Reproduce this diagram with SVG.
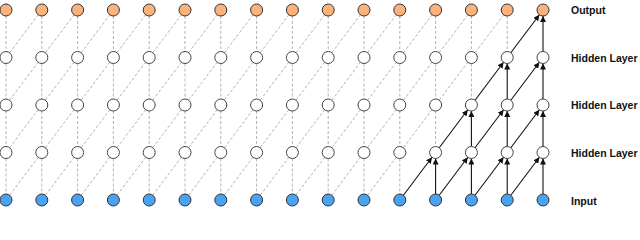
<svg xmlns="http://www.w3.org/2000/svg" width="640" height="240" viewBox="0 0 640 240">
<defs>
<style>
.d{stroke:#b3b3b3;stroke-width:1;stroke-dasharray:3 2;fill:none}
.a{stroke:#111;stroke-width:1.1;fill:none;marker-end:url(#ah)}
.o{fill:#fbb27c;stroke:#333;stroke-width:1}
.h{fill:#fff;stroke:#444;stroke-width:1}
.i{fill:#4aa3f0;stroke:#333;stroke-width:1}
.t{font-family:"Liberation Sans",Arial,sans-serif;font-weight:bold;font-size:10.5px;fill:#111}
</style>
<marker id="ah" viewBox="0 0 10 10" refX="10" refY="5" markerWidth="6" markerHeight="6" markerUnits="userSpaceOnUse" orient="auto"><path d="M0,0 L10,5 L0,10 z" fill="#111"/></marker>
</defs>
<g id="connectors">
<!-- grey vertical dashed -->
<g id="dashed-vertical">
<line class="d" x1="6" y1="16" x2="6" y2="51.5"/><line class="d" x1="6" y1="63.5" x2="6" y2="99"/><line class="d" x1="6" y1="111" x2="6" y2="146.5"/><line class="d" x1="6" y1="158.5" x2="6" y2="194"/>
<line class="d" x1="41.8" y1="16" x2="41.8" y2="51.5"/><line class="d" x1="41.8" y1="63.5" x2="41.8" y2="99"/><line class="d" x1="41.8" y1="111" x2="41.8" y2="146.5"/><line class="d" x1="41.8" y1="158.5" x2="41.8" y2="194"/>
<line class="d" x1="77.6" y1="16" x2="77.6" y2="51.5"/><line class="d" x1="77.6" y1="63.5" x2="77.6" y2="99"/><line class="d" x1="77.6" y1="111" x2="77.6" y2="146.5"/><line class="d" x1="77.6" y1="158.5" x2="77.6" y2="194"/>
<line class="d" x1="113.4" y1="16" x2="113.4" y2="51.5"/><line class="d" x1="113.4" y1="63.5" x2="113.4" y2="99"/><line class="d" x1="113.4" y1="111" x2="113.4" y2="146.5"/><line class="d" x1="113.4" y1="158.5" x2="113.4" y2="194"/>
<line class="d" x1="149.2" y1="16" x2="149.2" y2="51.5"/><line class="d" x1="149.2" y1="63.5" x2="149.2" y2="99"/><line class="d" x1="149.2" y1="111" x2="149.2" y2="146.5"/><line class="d" x1="149.2" y1="158.5" x2="149.2" y2="194"/>
<line class="d" x1="185" y1="16" x2="185" y2="51.5"/><line class="d" x1="185" y1="63.5" x2="185" y2="99"/><line class="d" x1="185" y1="111" x2="185" y2="146.5"/><line class="d" x1="185" y1="158.5" x2="185" y2="194"/>
<line class="d" x1="220.8" y1="16" x2="220.8" y2="51.5"/><line class="d" x1="220.8" y1="63.5" x2="220.8" y2="99"/><line class="d" x1="220.8" y1="111" x2="220.8" y2="146.5"/><line class="d" x1="220.8" y1="158.5" x2="220.8" y2="194"/>
<line class="d" x1="256.6" y1="16" x2="256.6" y2="51.5"/><line class="d" x1="256.6" y1="63.5" x2="256.6" y2="99"/><line class="d" x1="256.6" y1="111" x2="256.6" y2="146.5"/><line class="d" x1="256.6" y1="158.5" x2="256.6" y2="194"/>
<line class="d" x1="292.4" y1="16" x2="292.4" y2="51.5"/><line class="d" x1="292.4" y1="63.5" x2="292.4" y2="99"/><line class="d" x1="292.4" y1="111" x2="292.4" y2="146.5"/><line class="d" x1="292.4" y1="158.5" x2="292.4" y2="194"/>
<line class="d" x1="328.2" y1="16" x2="328.2" y2="51.5"/><line class="d" x1="328.2" y1="63.5" x2="328.2" y2="99"/><line class="d" x1="328.2" y1="111" x2="328.2" y2="146.5"/><line class="d" x1="328.2" y1="158.5" x2="328.2" y2="194"/>
<line class="d" x1="364" y1="16" x2="364" y2="51.5"/><line class="d" x1="364" y1="63.5" x2="364" y2="99"/><line class="d" x1="364" y1="111" x2="364" y2="146.5"/><line class="d" x1="364" y1="158.5" x2="364" y2="194"/>
<line class="d" x1="399.8" y1="16" x2="399.8" y2="51.5"/><line class="d" x1="399.8" y1="63.5" x2="399.8" y2="99"/><line class="d" x1="399.8" y1="111" x2="399.8" y2="146.5"/><line class="d" x1="399.8" y1="158.5" x2="399.8" y2="194"/>
<line class="d" x1="435.6" y1="16" x2="435.6" y2="51.5"/><line class="d" x1="435.6" y1="63.5" x2="435.6" y2="99"/><line class="d" x1="435.6" y1="111" x2="435.6" y2="146.5"/>
<line class="d" x1="471.4" y1="16" x2="471.4" y2="51.5"/><line class="d" x1="471.4" y1="63.5" x2="471.4" y2="99"/>
<line class="d" x1="507.2" y1="16" x2="507.2" y2="51.5"/>
</g>
<!-- grey diagonal dashed -->
<g id="dashed-diagonal">
<line class="d" x1="9.61" y1="52.71" x2="38.19" y2="14.79"/><line class="d" x1="9.61" y1="100.21" x2="38.19" y2="62.29"/><line class="d" x1="9.61" y1="147.71" x2="38.19" y2="109.79"/><line class="d" x1="9.61" y1="195.21" x2="38.19" y2="157.29"/>
<line class="d" x1="45.41" y1="52.71" x2="73.99" y2="14.79"/><line class="d" x1="45.41" y1="100.21" x2="73.99" y2="62.29"/><line class="d" x1="45.41" y1="147.71" x2="73.99" y2="109.79"/><line class="d" x1="45.41" y1="195.21" x2="73.99" y2="157.29"/>
<line class="d" x1="81.21" y1="52.71" x2="109.79" y2="14.79"/><line class="d" x1="81.21" y1="100.21" x2="109.79" y2="62.29"/><line class="d" x1="81.21" y1="147.71" x2="109.79" y2="109.79"/><line class="d" x1="81.21" y1="195.21" x2="109.79" y2="157.29"/>
<line class="d" x1="117.01" y1="52.71" x2="145.59" y2="14.79"/><line class="d" x1="117.01" y1="100.21" x2="145.59" y2="62.29"/><line class="d" x1="117.01" y1="147.71" x2="145.59" y2="109.79"/><line class="d" x1="117.01" y1="195.21" x2="145.59" y2="157.29"/>
<line class="d" x1="152.81" y1="52.71" x2="181.39" y2="14.79"/><line class="d" x1="152.81" y1="100.21" x2="181.39" y2="62.29"/><line class="d" x1="152.81" y1="147.71" x2="181.39" y2="109.79"/><line class="d" x1="152.81" y1="195.21" x2="181.39" y2="157.29"/>
<line class="d" x1="188.61" y1="52.71" x2="217.19" y2="14.79"/><line class="d" x1="188.61" y1="100.21" x2="217.19" y2="62.29"/><line class="d" x1="188.61" y1="147.71" x2="217.19" y2="109.79"/><line class="d" x1="188.61" y1="195.21" x2="217.19" y2="157.29"/>
<line class="d" x1="224.41" y1="52.71" x2="252.99" y2="14.79"/><line class="d" x1="224.41" y1="100.21" x2="252.99" y2="62.29"/><line class="d" x1="224.41" y1="147.71" x2="252.99" y2="109.79"/><line class="d" x1="224.41" y1="195.21" x2="252.99" y2="157.29"/>
<line class="d" x1="260.21" y1="52.71" x2="288.79" y2="14.79"/><line class="d" x1="260.21" y1="100.21" x2="288.79" y2="62.29"/><line class="d" x1="260.21" y1="147.71" x2="288.79" y2="109.79"/><line class="d" x1="260.21" y1="195.21" x2="288.79" y2="157.29"/>
<line class="d" x1="296.01" y1="52.71" x2="324.59" y2="14.79"/><line class="d" x1="296.01" y1="100.21" x2="324.59" y2="62.29"/><line class="d" x1="296.01" y1="147.71" x2="324.59" y2="109.79"/><line class="d" x1="296.01" y1="195.21" x2="324.59" y2="157.29"/>
<line class="d" x1="331.81" y1="52.71" x2="360.39" y2="14.79"/><line class="d" x1="331.81" y1="100.21" x2="360.39" y2="62.29"/><line class="d" x1="331.81" y1="147.71" x2="360.39" y2="109.79"/><line class="d" x1="331.81" y1="195.21" x2="360.39" y2="157.29"/>
<line class="d" x1="367.61" y1="52.71" x2="396.19" y2="14.79"/><line class="d" x1="367.61" y1="100.21" x2="396.19" y2="62.29"/><line class="d" x1="367.61" y1="147.71" x2="396.19" y2="109.79"/><line class="d" x1="367.61" y1="195.21" x2="396.19" y2="157.29"/>
<line class="d" x1="403.41" y1="52.71" x2="431.99" y2="14.79"/><line class="d" x1="403.41" y1="100.21" x2="431.99" y2="62.29"/><line class="d" x1="403.41" y1="147.71" x2="431.99" y2="109.79"/>
<line class="d" x1="439.21" y1="52.71" x2="467.79" y2="14.79"/><line class="d" x1="439.21" y1="100.21" x2="467.79" y2="62.29"/>
<line class="d" x1="475.01" y1="52.71" x2="503.59" y2="14.79"/>
</g>
<!-- active solid arrows -->
<g id="active-arrows">
<line class="a" x1="543" y1="51.5" x2="543" y2="16"/>
<line class="a" x1="510.81" y1="52.71" x2="539.39" y2="14.79"/>
<line class="a" x1="507.2" y1="99" x2="507.2" y2="63.5"/>
<line class="a" x1="543" y1="99" x2="543" y2="63.5"/>
<line class="a" x1="475.01" y1="100.21" x2="503.59" y2="62.29"/>
<line class="a" x1="510.81" y1="100.21" x2="539.39" y2="62.29"/>
<line class="a" x1="471.4" y1="146.5" x2="471.4" y2="111"/>
<line class="a" x1="507.2" y1="146.5" x2="507.2" y2="111"/>
<line class="a" x1="543" y1="146.5" x2="543" y2="111"/>
<line class="a" x1="439.21" y1="147.71" x2="467.79" y2="109.79"/>
<line class="a" x1="475.01" y1="147.71" x2="503.59" y2="109.79"/>
<line class="a" x1="510.81" y1="147.71" x2="539.39" y2="109.79"/>
<line class="a" x1="435.6" y1="194" x2="435.6" y2="158.5"/>
<line class="a" x1="471.4" y1="194" x2="471.4" y2="158.5"/>
<line class="a" x1="507.2" y1="194" x2="507.2" y2="158.5"/>
<line class="a" x1="543" y1="194" x2="543" y2="158.5"/>
<line class="a" x1="403.41" y1="195.21" x2="431.99" y2="157.29"/>
<line class="a" x1="439.21" y1="195.21" x2="467.79" y2="157.29"/>
<line class="a" x1="475.01" y1="195.21" x2="503.59" y2="157.29"/>
<line class="a" x1="510.81" y1="195.21" x2="539.39" y2="157.29"/>
</g>
</g>
<g id="output-nodes">
<circle class="o" cx="6" cy="10" r="6"/><circle class="o" cx="41.8" cy="10" r="6"/><circle class="o" cx="77.6" cy="10" r="6"/><circle class="o" cx="113.4" cy="10" r="6"/><circle class="o" cx="149.2" cy="10" r="6"/><circle class="o" cx="185" cy="10" r="6"/><circle class="o" cx="220.8" cy="10" r="6"/><circle class="o" cx="256.6" cy="10" r="6"/><circle class="o" cx="292.4" cy="10" r="6"/><circle class="o" cx="328.2" cy="10" r="6"/><circle class="o" cx="364" cy="10" r="6"/><circle class="o" cx="399.8" cy="10" r="6"/><circle class="o" cx="435.6" cy="10" r="6"/><circle class="o" cx="471.4" cy="10" r="6"/><circle class="o" cx="507.2" cy="10" r="6"/><circle class="o" cx="543" cy="10" r="6"/>
</g>
<g id="hidden-layer-1">
<circle class="h" cx="6" cy="57.5" r="6"/><circle class="h" cx="41.8" cy="57.5" r="6"/><circle class="h" cx="77.6" cy="57.5" r="6"/><circle class="h" cx="113.4" cy="57.5" r="6"/><circle class="h" cx="149.2" cy="57.5" r="6"/><circle class="h" cx="185" cy="57.5" r="6"/><circle class="h" cx="220.8" cy="57.5" r="6"/><circle class="h" cx="256.6" cy="57.5" r="6"/><circle class="h" cx="292.4" cy="57.5" r="6"/><circle class="h" cx="328.2" cy="57.5" r="6"/><circle class="h" cx="364" cy="57.5" r="6"/><circle class="h" cx="399.8" cy="57.5" r="6"/><circle class="h" cx="435.6" cy="57.5" r="6"/><circle class="h" cx="471.4" cy="57.5" r="6"/><circle class="h" cx="507.2" cy="57.5" r="6"/><circle class="h" cx="543" cy="57.5" r="6"/>
</g>
<g id="hidden-layer-2">
<circle class="h" cx="6" cy="105" r="6"/><circle class="h" cx="41.8" cy="105" r="6"/><circle class="h" cx="77.6" cy="105" r="6"/><circle class="h" cx="113.4" cy="105" r="6"/><circle class="h" cx="149.2" cy="105" r="6"/><circle class="h" cx="185" cy="105" r="6"/><circle class="h" cx="220.8" cy="105" r="6"/><circle class="h" cx="256.6" cy="105" r="6"/><circle class="h" cx="292.4" cy="105" r="6"/><circle class="h" cx="328.2" cy="105" r="6"/><circle class="h" cx="364" cy="105" r="6"/><circle class="h" cx="399.8" cy="105" r="6"/><circle class="h" cx="435.6" cy="105" r="6"/><circle class="h" cx="471.4" cy="105" r="6"/><circle class="h" cx="507.2" cy="105" r="6"/><circle class="h" cx="543" cy="105" r="6"/>
</g>
<g id="hidden-layer-3">
<circle class="h" cx="6" cy="152.5" r="6"/><circle class="h" cx="41.8" cy="152.5" r="6"/><circle class="h" cx="77.6" cy="152.5" r="6"/><circle class="h" cx="113.4" cy="152.5" r="6"/><circle class="h" cx="149.2" cy="152.5" r="6"/><circle class="h" cx="185" cy="152.5" r="6"/><circle class="h" cx="220.8" cy="152.5" r="6"/><circle class="h" cx="256.6" cy="152.5" r="6"/><circle class="h" cx="292.4" cy="152.5" r="6"/><circle class="h" cx="328.2" cy="152.5" r="6"/><circle class="h" cx="364" cy="152.5" r="6"/><circle class="h" cx="399.8" cy="152.5" r="6"/><circle class="h" cx="435.6" cy="152.5" r="6"/><circle class="h" cx="471.4" cy="152.5" r="6"/><circle class="h" cx="507.2" cy="152.5" r="6"/><circle class="h" cx="543" cy="152.5" r="6"/>
</g>
<g id="input-nodes">
<circle class="i" cx="6" cy="200" r="6"/><circle class="i" cx="41.8" cy="200" r="6"/><circle class="i" cx="77.6" cy="200" r="6"/><circle class="i" cx="113.4" cy="200" r="6"/><circle class="i" cx="149.2" cy="200" r="6"/><circle class="i" cx="185" cy="200" r="6"/><circle class="i" cx="220.8" cy="200" r="6"/><circle class="i" cx="256.6" cy="200" r="6"/><circle class="i" cx="292.4" cy="200" r="6"/><circle class="i" cx="328.2" cy="200" r="6"/><circle class="i" cx="364" cy="200" r="6"/><circle class="i" cx="399.8" cy="200" r="6"/><circle class="i" cx="435.6" cy="200" r="6"/><circle class="i" cx="471.4" cy="200" r="6"/><circle class="i" cx="507.2" cy="200" r="6"/><circle class="i" cx="543" cy="200" r="6"/>
</g>
<g id="labels">
<text class="t" x="571" y="14">Output</text>
<text class="t" x="571" y="61.5">Hidden Layer</text>
<text class="t" x="571" y="109">Hidden Layer</text>
<text class="t" x="571" y="156.5">Hidden Layer</text>
<text class="t" x="571" y="205">Input</text>
</g>
</svg>
